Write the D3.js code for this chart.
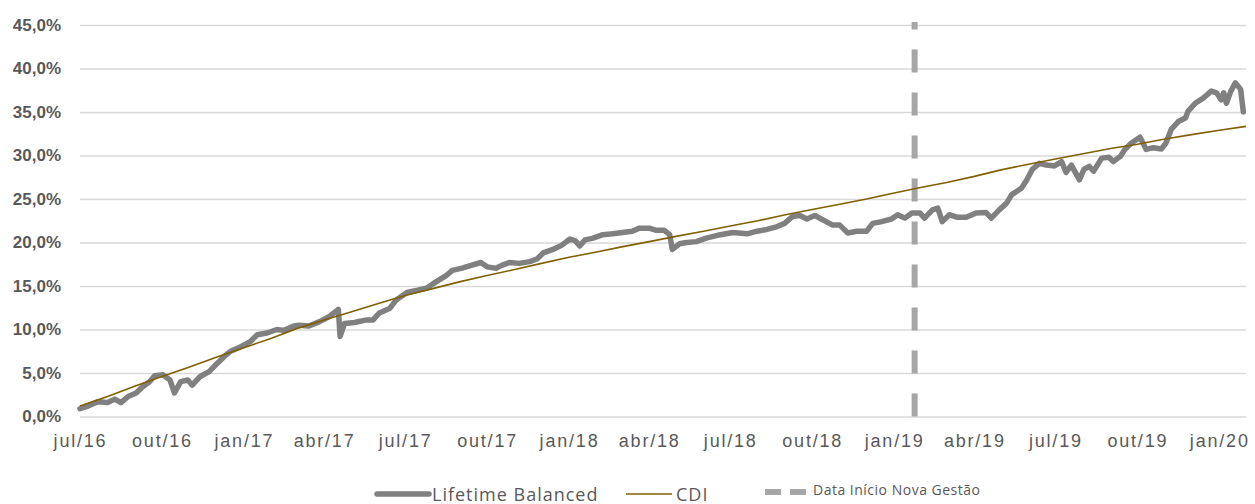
<!DOCTYPE html>
<html>
<head>
<meta charset="utf-8">
<script src="https://cdn.jsdelivr.net/npm/d3@7"></script>
<style>
  body { margin: 0; background: #fff; }
  svg { display: block; font-family: 'Open Sans', sans-serif; }
</style>
</head>
<body>
<svg id="chart" width="1255" height="504"></svg>
<script>
// Lifetime Balanced cumulative return (%)
const lifetime = [
  ['2016-07-01', 0.9], ['2016-07-10', 1.2], ['2016-07-21', 1.7], ['2016-08-01', 1.6],
  ['2016-08-09', 2.0], ['2016-08-16', 1.6], ['2016-08-24', 2.3], ['2016-09-02', 2.7],
  ['2016-09-09', 3.4], ['2016-09-17', 4.0], ['2016-09-23', 4.7], ['2016-10-02', 4.8],
  ['2016-10-10', 4.2], ['2016-10-15', 2.7], ['2016-10-22', 4.0], ['2016-10-30', 4.2],
  ['2016-11-04', 3.6], ['2016-11-13', 4.6], ['2016-11-23', 5.15], ['2016-12-02', 6.1],
  ['2016-12-10', 6.9], ['2016-12-17', 7.5], ['2016-12-28', 8.0], ['2017-01-08', 8.6],
  ['2017-01-16', 9.4], ['2017-01-27', 9.6], ['2017-02-07', 10.0], ['2017-02-15', 9.9],
  ['2017-02-26', 10.4], ['2017-03-04', 10.5], ['2017-03-15', 10.4], ['2017-03-27', 10.9],
  ['2017-04-07', 11.5], ['2017-04-17', 12.3], ['2017-04-19', 9.2], ['2017-04-24', 10.7],
  ['2017-05-05', 10.8], ['2017-05-19', 11.1], ['2017-05-26', 11.1], ['2017-06-02', 11.9],
  ['2017-06-14', 12.45], ['2017-06-21', 13.4], ['2017-07-03', 14.25], ['2017-07-14', 14.5],
  ['2017-07-25', 14.75], ['2017-08-05', 15.5], ['2017-08-16', 16.2], ['2017-08-23', 16.8],
  ['2017-09-03', 17.05], ['2017-09-14', 17.4], ['2017-09-24', 17.7], ['2017-10-01', 17.2],
  ['2017-10-11', 17.05], ['2017-10-18', 17.4], ['2017-10-26', 17.7], ['2017-11-06', 17.6],
  ['2017-11-18', 17.8], ['2017-11-26', 18.1], ['2017-12-03', 18.8], ['2017-12-14', 19.2],
  ['2017-12-24', 19.7], ['2018-01-02', 20.4], ['2018-01-08', 20.2], ['2018-01-13', 19.6],
  ['2018-01-19', 20.3], ['2018-01-28', 20.5], ['2018-02-08', 20.9], ['2018-02-19', 21.0],
  ['2018-03-02', 21.15], ['2018-03-13', 21.3], ['2018-03-21', 21.65], ['2018-04-01', 21.65],
  ['2018-04-09', 21.4], ['2018-04-18', 21.4], ['2018-04-24', 20.9], ['2018-04-27', 19.2],
  ['2018-05-05', 19.85], ['2018-05-13', 20.0], ['2018-05-24', 20.1], ['2018-06-04', 20.5],
  ['2018-06-12', 20.7], ['2018-06-20', 20.9], ['2018-07-04', 21.15], ['2018-07-20', 21.0],
  ['2018-07-31', 21.3], ['2018-08-11', 21.5], ['2018-08-22', 21.8], ['2018-08-31', 22.2],
  ['2018-09-09', 23.0], ['2018-09-17', 23.1], ['2018-09-25', 22.7], ['2018-10-04', 23.1],
  ['2018-10-13', 22.6], ['2018-10-24', 22.0], ['2018-11-01', 22.0], ['2018-11-10', 21.1],
  ['2018-11-20', 21.3], ['2018-12-01', 21.3], ['2018-12-08', 22.2], ['2018-12-18', 22.4],
  ['2018-12-29', 22.7], ['2019-01-05', 23.2], ['2019-01-13', 22.8], ['2019-01-21', 23.4],
  ['2019-01-30', 23.4], ['2019-02-04', 22.8], ['2019-02-13', 23.75], ['2019-02-19', 23.95],
  ['2019-02-24', 22.4], ['2019-03-04', 23.2], ['2019-03-13', 22.9], ['2019-03-23', 22.9],
  ['2019-04-03', 23.4], ['2019-04-14', 23.45], ['2019-04-20', 22.8], ['2019-04-29', 23.75],
  ['2019-05-07', 24.5], ['2019-05-13', 25.5], ['2019-05-24', 26.25], ['2019-05-30', 27.2],
  ['2019-06-05', 28.4], ['2019-06-13', 29.1], ['2019-06-21', 28.9], ['2019-06-30', 28.8],
  ['2019-07-08', 29.3], ['2019-07-13', 28.05], ['2019-07-19', 28.9], ['2019-07-28', 27.2],
  ['2019-08-02', 28.4], ['2019-08-08', 28.75], ['2019-08-13', 28.2], ['2019-08-22', 29.7],
  ['2019-08-30', 29.8], ['2019-09-04', 29.3], ['2019-09-12', 29.9], ['2019-09-17', 30.7],
  ['2019-09-24', 31.4], ['2019-10-04', 32.1], ['2019-10-11', 30.7], ['2019-10-19', 30.9],
  ['2019-10-28', 30.75], ['2019-11-02', 31.4], ['2019-11-08', 33.0], ['2019-11-16', 33.9],
  ['2019-11-24', 34.3], ['2019-11-27', 35.1], ['2019-12-05', 36.0], ['2019-12-14', 36.6],
  ['2019-12-23', 37.4], ['2019-12-29', 37.2], ['2020-01-03', 36.4], ['2020-01-06', 37.2],
  ['2020-01-09', 36.0], ['2020-01-14', 37.4], ['2020-01-19', 38.35], ['2020-01-25', 37.6],
  ['2020-01-28', 35.0]
]

// CDI cumulative return (%), month by month
const cdi = [
  ['2016-07-01', 1.2], ['2016-08-01', 2.3], ['2016-09-01', 3.5], ['2016-10-01', 4.6],
  ['2016-11-01', 5.7], ['2016-12-01', 6.8], ['2017-01-01', 7.9], ['2017-02-01', 9.0],
  ['2017-03-01', 10.1], ['2017-04-01', 11.1], ['2017-05-01', 12.0], ['2017-06-01', 13.0],
  ['2017-07-01', 13.9], ['2017-08-01', 14.7], ['2017-09-01', 15.5], ['2017-10-01', 16.2],
  ['2017-11-01', 16.9], ['2017-12-01', 17.6], ['2018-01-01', 18.3], ['2018-02-01', 18.9],
  ['2018-03-01', 19.5], ['2018-04-01', 20.1], ['2018-05-01', 20.7], ['2018-06-01', 21.3],
  ['2018-07-01', 21.9], ['2018-08-01', 22.5], ['2018-09-01', 23.2], ['2018-10-01', 23.8],
  ['2018-11-01', 24.4], ['2018-12-01', 25.0], ['2019-01-01', 25.7], ['2019-02-01', 26.35],
  ['2019-03-01', 26.9], ['2019-04-01', 27.6], ['2019-05-01', 28.35], ['2019-06-01', 29.0],
  ['2019-07-01', 29.6], ['2019-08-01', 30.2], ['2019-09-01', 30.8], ['2019-10-01', 31.3],
  ['2019-11-01', 31.9], ['2019-12-01', 32.4], ['2020-01-01', 32.9], ['2020-01-31', 33.35]
]

// start of the new management
const newManagementDate = '2019-01-24'

const xTickDates = ['2016-07-01', '2016-10-01', '2017-01-01', '2017-04-01', '2017-07-01',
  '2017-10-01', '2018-01-01', '2018-04-01', '2018-07-01', '2018-10-01', '2019-01-01',
  '2019-04-01', '2019-07-01', '2019-10-01', '2020-01-01']
const xTickLabels = ['jul/16', 'out/16', 'jan/17', 'abr/17', 'jul/17', 'out/17', 'jan/18',
  'abr/18', 'jul/18', 'out/18', 'jan/19', 'abr/19', 'jul/19', 'out/19', 'jan/20']
const yTicks = [0, 5, 10, 15, 20, 25, 30, 35, 40, 45]

const seriesNames = ['Lifetime Balanced', 'CDI', 'Data Início Nova Gestão']

const parseDate = d3.timeParse('%Y-%m-%d')
const ptBR = d3.formatLocale({ decimal: ',', thousands: '.', grouping: [3], currency: ['R$', ''] })
const fmtPct = ptBR.format('.1f')

const svg = d3.select('#chart')
const plotLeft = 80
const plotRight = 1246
const plotTop = 25
const plotBottom = 416.5

const x = d3.scaleTime()
  .domain([parseDate('2016-07-01'), parseDate('2020-01-31')])
  .range([plotLeft, plotRight])
const y = d3.scaleLinear()
  .domain([0, 45])
  .range([plotBottom, plotTop])

// Gridlines and y labels
const yAxis = svg.append('g')
  .attr('transform', `translate(${plotLeft},0)`)
  .call(d3.axisLeft(y)
    .tickValues(yTicks)
    .tickSize(-(plotRight - plotLeft))
    .tickPadding(19)
    .tickFormat((d) => fmtPct(d) + '%'))
yAxis.select('.domain').remove()
yAxis.selectAll('line').attr('stroke', '#d9d9d9').attr('stroke-width', 1.5)
yAxis.selectAll('text')
  .attr('fill', '#595959')
  .style('font-size', '17px')
  .style('font-weight', 'bold')

// X labels
const xAxis = svg.append('g')
  .attr('transform', `translate(0,${plotBottom})`)
  .call(d3.axisBottom(x)
    .tickValues(xTickDates.map(parseDate))
    .tickSize(0)
    .tickPadding(18)
    .tickFormat((d, i) => xTickLabels[i]))
xAxis.select('.domain').remove()
xAxis.selectAll('text')
  .attr('fill', '#595959')
  .style('font-size', '18px')
  .style('letter-spacing', '1.8px')

// Vertical dashed marker, dashes starting from the bottom
const xm = x(parseDate(newManagementDate))
svg.append('line')
  .attr('x1', xm).attr('x2', xm)
  .attr('y1', y(0)).attr('y2', y(45) - 3)
  .attr('stroke', '#a6a6a6')
  .attr('stroke-width', 6)
  .attr('stroke-dasharray', '23,20')

const line = d3.line()
  .x((d) => x(parseDate(d[0])))
  .y((d) => y(d[1]))

svg.append('path')
  .datum(lifetime)
  .attr('d', line)
  .attr('fill', 'none')
  .attr('stroke', '#808080')
  .attr('stroke-width', 5.5)
  .attr('stroke-linejoin', 'round')
  .attr('stroke-linecap', 'round')

svg.append('path')
  .datum(cdi)
  .attr('d', line)
  .attr('fill', 'none')
  .attr('stroke', '#7f6000')
  .attr('stroke-width', 1.6)

// Legend
const legend = svg.append('g').attr('transform', 'translate(0,494)')
legend.append('line')
  .attr('x1', 377).attr('x2', 429)
  .attr('stroke', '#808080').attr('stroke-width', 5.5).attr('stroke-linecap', 'round')
legend.append('text')
  .attr('x', 432).attr('y', 7)
  .attr('fill', '#595959')
  .style('font-size', '18px').style('letter-spacing', '1px')
  .text(seriesNames[0])
legend.append('line')
  .attr('x1', 626).attr('x2', 672)
  .attr('stroke', '#7f6000').attr('stroke-width', 1.6)
legend.append('text')
  .attr('x', 676).attr('y', 7)
  .attr('fill', '#595959')
  .style('font-size', '18px').style('letter-spacing', '1px')
  .text(seriesNames[1])
legend.append('line')
  .attr('x1', 765).attr('x2', 806).attr('y1', -2).attr('y2', -2)
  .attr('stroke', '#a6a6a6').attr('stroke-width', 6)
  .attr('stroke-dasharray', '16,9')
legend.append('text')
  .attr('x', 813).attr('y', 1)
  .attr('fill', '#595959')
  .style('font-size', '14px').style('letter-spacing', '0.5px')
  .text(seriesNames[2])
</script>
</body>
</html>
